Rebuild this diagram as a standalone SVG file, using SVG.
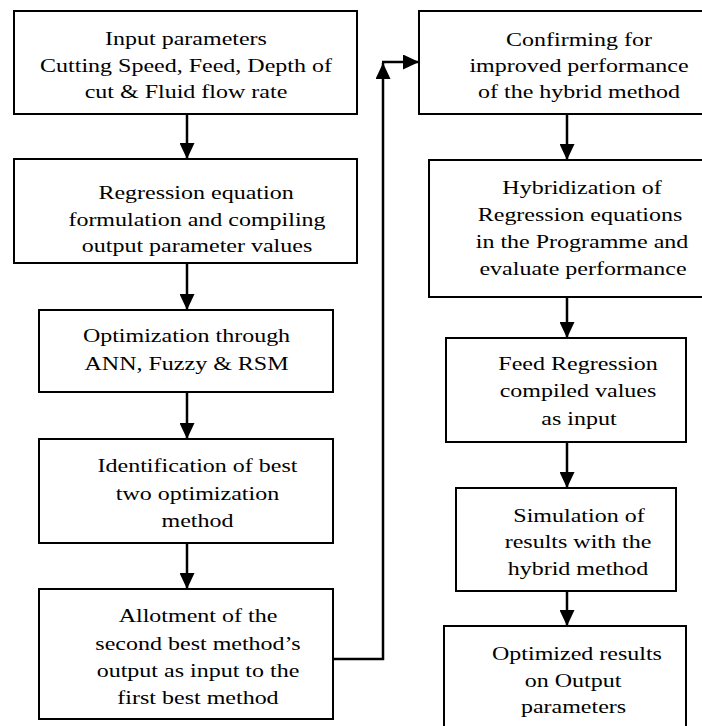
<svg xmlns="http://www.w3.org/2000/svg" width="702" height="726" viewBox="0 0 702 726">
<style>
.box{fill:#fff;stroke:#000;stroke-width:2}
.t{font-family:"Liberation Serif","Times New Roman",serif;font-size:24px;fill:#000;text-anchor:middle}
.c{fill:none;stroke:#000;stroke-width:2.5}
</style>
<defs>
<marker id="ah" markerUnits="userSpaceOnUse" markerWidth="16" markerHeight="15" refX="16" refY="7.5" orient="auto" viewBox="0 0 16 15">
<path d="M0,0 L16,7.5 L0,15 z" fill="#000"/>
</marker>
</defs>
<rect width="702" height="726" fill="#fff"/>
<g id="connectors">
<line class="c" x1="187" y1="114" x2="187" y2="159" marker-end="url(#ah)"/>
<line class="c" x1="187" y1="263" x2="187" y2="310" marker-end="url(#ah)"/>
<line class="c" x1="187" y1="392" x2="187" y2="439" marker-end="url(#ah)"/>
<line class="c" x1="187" y1="543" x2="187" y2="589" marker-end="url(#ah)"/>
<line class="c" x1="567" y1="114" x2="567" y2="160" marker-end="url(#ah)"/>
<line class="c" x1="567" y1="297" x2="567" y2="338" marker-end="url(#ah)"/>
<line class="c" x1="567" y1="442" x2="567" y2="488" marker-end="url(#ah)"/>
<line class="c" x1="567" y1="591" x2="567" y2="626" marker-end="url(#ah)"/>
<path class="c" d="M333,659 H383 V63" marker-end="url(#ah)"/>
<path class="c" d="M382,62 H419" marker-end="url(#ah)"/>
</g>
<g id="n1">
<rect class="box" x="14" y="11" width="343" height="103"/>
<text class="t" transform="matrix(1,0,0,0.78,186,45)">Input parameters</text>
<text class="t" transform="matrix(1,0,0,0.78,186,72)">Cutting Speed, Feed, Depth of</text>
<text class="t" transform="matrix(1,0,0,0.78,186,98)">cut &amp; Fluid flow rate</text>
</g>
<g id="n2">
<rect class="box" x="14" y="159" width="343" height="104"/>
<text class="t" transform="matrix(1,0,0,0.78,196,199)">Regression equation</text>
<text class="t" transform="matrix(1,0,0,0.78,197,225.5)">formulation and compiling</text>
<text class="t" transform="matrix(1,0,0,0.78,197,252)">output parameter values</text>
</g>
<g id="n3">
<rect class="box" x="39" y="310" width="294" height="82"/>
<text class="t" transform="matrix(1,0,0,0.78,186.5,342)">Optimization through</text>
<text class="t" transform="matrix(1,0,0,0.78,186.5,370)">ANN, Fuzzy &amp; RSM</text>
</g>
<g id="n4">
<rect class="box" x="39" y="439" width="294" height="104"/>
<text class="t" transform="matrix(1,0,0,0.78,197.5,472)">Identification of best</text>
<text class="t" transform="matrix(1,0,0,0.78,197.5,499.5)">two optimization</text>
<text class="t" transform="matrix(1,0,0,0.78,197.5,527)">method</text>
</g>
<g id="n5">
<rect class="box" x="39" y="589" width="294" height="130"/>
<text class="t" transform="matrix(1,0,0,0.78,198,622)">Allotment of the</text>
<text class="t" transform="matrix(1,0,0,0.78,198,650)">second best method’s</text>
<text class="t" transform="matrix(1,0,0,0.78,198,677)">output as input to the</text>
<text class="t" transform="matrix(1,0,0,0.78,198,704)">first best method</text>
</g>
<g id="n6">
<rect class="box" x="419" y="11" width="300" height="103"/>
<text class="t" transform="matrix(1,0,0,0.78,579,46)">Confirming for</text>
<text class="t" transform="matrix(1,0,0,0.78,579,72)">improved performance</text>
<text class="t" transform="matrix(1,0,0,0.78,579,98)">of the hybrid method</text>
</g>
<g id="n7">
<rect class="box" x="429" y="160" width="290" height="137"/>
<text class="t" transform="matrix(1,0,0,0.78,582,194)">Hybridization of</text>
<text class="t" transform="matrix(1,0,0,0.78,580,221)">Regression equations</text>
<text class="t" transform="matrix(1,0,0,0.78,582,248)">in the Programme and</text>
<text class="t" transform="matrix(1,0,0,0.78,583,275)">evaluate performance</text>
</g>
<g id="n8">
<rect class="box" x="446" y="338" width="240" height="104"/>
<text class="t" transform="matrix(1,0,0,0.78,578,370)">Feed Regression</text>
<text class="t" transform="matrix(1,0,0,0.78,578,397)">compiled values</text>
<text class="t" transform="matrix(1,0,0,0.78,579,425)">as input</text>
</g>
<g id="n9">
<rect class="box" x="456" y="488" width="220" height="103"/>
<text class="t" transform="matrix(1,0,0,0.78,579,522)">Simulation of</text>
<text class="t" transform="matrix(1,0,0,0.78,578,548)">results with the</text>
<text class="t" transform="matrix(1,0,0,0.78,578,575)">hybrid method</text>
</g>
<g id="n10">
<rect class="box" x="444" y="626" width="242" height="110"/>
<text class="t" transform="matrix(1,0,0,0.78,577,660)">Optimized results</text>
<text class="t" transform="matrix(1,0,0,0.78,573,687)">on Output</text>
<text class="t" transform="matrix(1,0,0,0.78,573.5,713)">parameters</text>
</g>
</svg>
